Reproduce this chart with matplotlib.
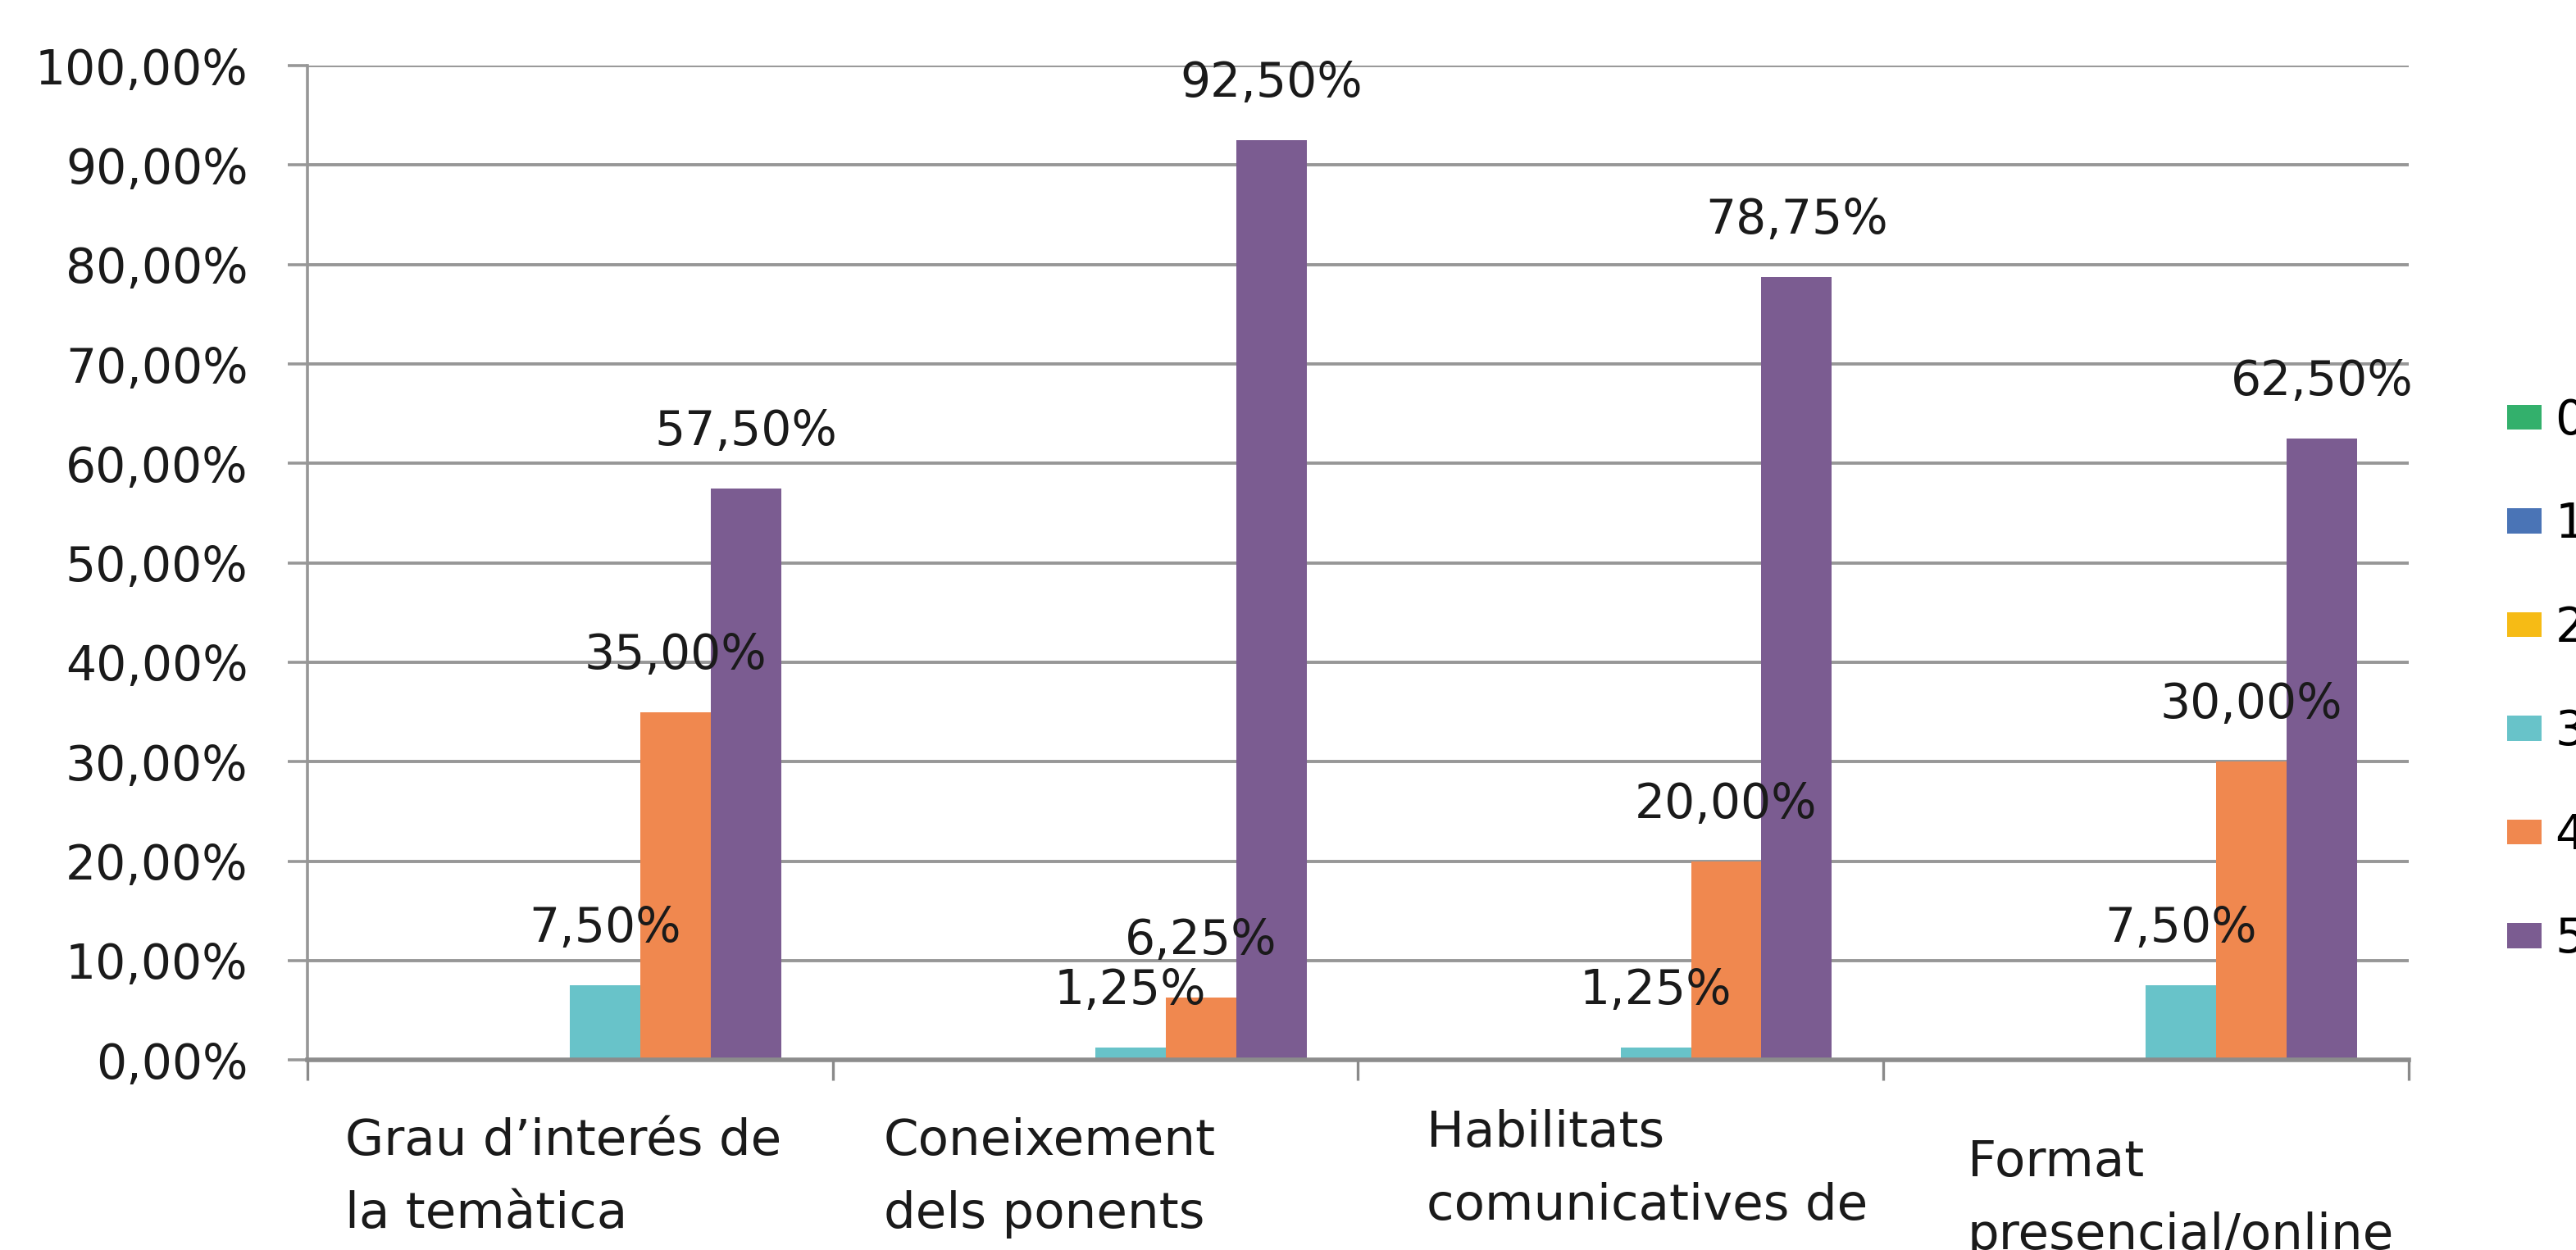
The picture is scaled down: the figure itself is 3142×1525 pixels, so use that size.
import numpy as np
import matplotlib
matplotlib.use("Agg")
import matplotlib.pyplot as plt
from matplotlib.ticker import FuncFormatter

# categories and series (rating 0..5), values as fractions
categories = [
    "Grau d\u2019interés de\nla temàtica",
    "Coneixement\ndels ponents",
    "Habilitats\ncomunicatives de\nles ponents",
    "Format\npresencial/online",
]
series_names = ["0", "1", "2", "3", "4", "5"]
series_values = [
    [0.0, 0.0, 0.0, 0.0],
    [0.0, 0.0, 0.0, 0.0],
    [0.0, 0.0, 0.0, 0.0],
    [0.075, 0.0125, 0.0125, 0.075],
    [0.35, 0.0625, 0.20, 0.30],
    [0.575, 0.925, 0.7875, 0.625],
]
series_colors = ["#33b06c", "#4a74b6", "#f6bb15", "#68c3c9", "#f0884f", "#7b5c91"]

plt.rcParams['font.family'] = ['DejaVu Sans']

fig = plt.figure(figsize=(15.71, 7.625), dpi=200)
ax = fig.add_axes([0.1193, 0.152, 0.8157, 0.7955])

n = len(series_names)
w = 0.134
x = np.arange(len(categories))

for i, (name, vals, col) in enumerate(zip(series_names, series_values, series_colors)):
    pos = x + (i - (n - 1) / 2) * w
    ax.bar(pos, vals, width=w, color=col, label=name, zorder=2)
    for px, v in zip(pos, vals):
        if v > 0:
            ax.annotate(f"{v*100:.2f}%".replace(".", ","), (px, v),
                        xytext=(0, 25), textcoords="offset points",
                        ha="center", va="center", fontsize=21, color="#1a1a1a", zorder=3)

ax.set_xlim(-0.5, len(categories) - 0.5)
ax.set_ylim(0, 1.0)
ax.set_yticks(np.arange(0, 1.01, 0.1))
ax.yaxis.set_major_formatter(FuncFormatter(lambda v, p: f"{v*100:.2f}%".replace(".", ",")))
ax.set_xticks(np.arange(-0.5, len(categories), 1.0))
ax.set_xticklabels([])

ax.grid(axis="y", color="#979797", linewidth=1.4, zorder=0)
ax.set_axisbelow(True)
ax.tick_params(axis="y", length=8.5, width=1.3, color="#979797", pad=17.5,
               labelsize=21, labelcolor="#1a1a1a")
ax.tick_params(axis="x", length=9, width=1.2, color="#8a8a8a")

for s in ["top", "right"]:
    ax.spines[s].set_visible(False)
ax.spines["left"].set_color("#979797")
ax.spines["left"].set_linewidth(1.3)
ax.spines["bottom"].set_color("#8c8c8c")
ax.spines["bottom"].set_linewidth(2.0)

# category labels, left aligned under each group
label_dx = [0.072, 0.097, 0.13, 0.16]
label_dy = [-25, -25, -21.5, -34.5]
for i, lab in enumerate(categories):
    ax.annotate(lab, (i - 0.5 + label_dx[i], 0), xycoords=("data", "axes fraction"),
                xytext=(0, label_dy[i]), textcoords="offset points",
                ha="left", va="top", fontsize=22, color="#1a1a1a",
                linespacing=1.65, annotation_clip=False)

fig.legend(loc="upper left", bbox_to_anchor=(0.9733, 0.682), frameon=False,
           fontsize=21, handlelength=0.72, handleheight=0.43, handletextpad=0.28,
           labelspacing=1.19, borderpad=0, borderaxespad=0)

fig.savefig("out.png", dpi=200)
